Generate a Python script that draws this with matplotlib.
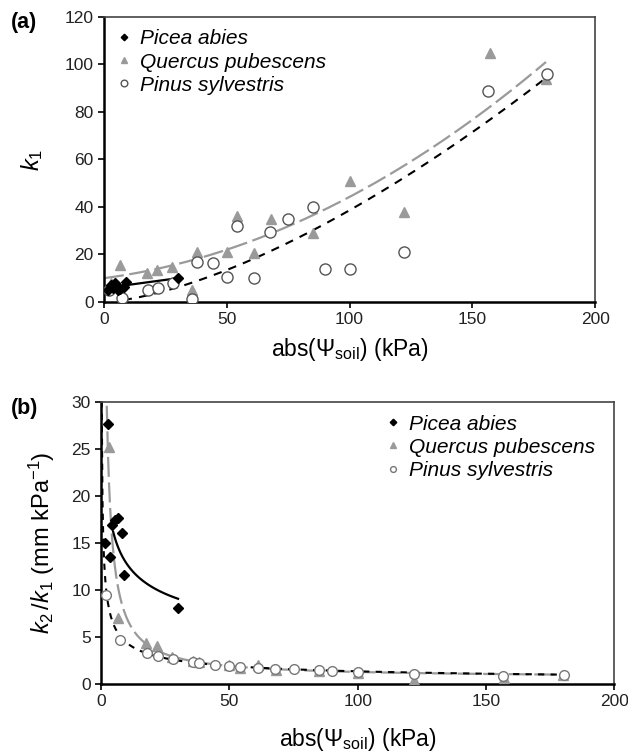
import numpy as np
import matplotlib
matplotlib.use("Agg")
import matplotlib.pyplot as plt

plt.rcParams['font.family'] = ['Liberation Sans', 'DejaVu Sans']
plt.rcParams['mathtext.fontset'] = 'custom'
plt.rcParams['mathtext.rm'] = 'Liberation Sans'
plt.rcParams['mathtext.it'] = 'Liberation Sans:italic'

# ---------------- data ----------------
species = ["Picea abies", "Quercus pubescens", "Pinus sylvestris"]

picea_x = [1.5, 2.7, 3.5, 4.3, 5.5, 6.6, 8.2, 9.0, 30.0]
picea_k1 = [5.0, 7.0, 6.0, 8.0, 5.0, 5.5, 6.5, 8.5, 10.0]
picea_ratio = [15.0, 27.7, 13.5, 16.9, 17.5, 17.7, 16.1, 11.6, 8.1]

quercus_x = [3.0, 6.5, 17.5, 21.6, 27.7, 36.0, 38.0, 50.0, 54.0, 61.0,
             68.0, 85.0, 100.0, 122.0, 157.0, 180.0]
quercus_k1 = [8.0, 15.5, 12.0, 13.4, 14.7, 5.0, 21.0, 21.0, 36.0, 20.6,
              35.0, 29.0, 51.0, 38.0, 105.0, 94.0]
quercus_ratio = [25.2, 7.0, 4.4, 4.0, 2.9, 2.5, 2.3, 2.0, 1.7, 2.0,
                 1.5, 1.4, 1.2, 0.4, 0.6, 1.0]

pinus_x = [2.0, 7.5, 18.0, 22.0, 28.0, 36.0, 38.0, 44.5, 50.0, 54.0,
           61.0, 67.6, 75.0, 85.0, 90.0, 100.0, 122.0, 156.5, 180.5]
pinus_k1 = [5.0, 1.5, 5.0, 6.0, 8.0, 1.3, 17.0, 16.5, 10.5, 32.0,
            10.0, 29.5, 35.0, 40.0, 14.0, 14.0, 21.0, 89.0, 96.0]
pinus_ratio = [9.5, 4.7, 3.3, 3.0, 2.7, 2.3, 2.2, 2.0, 1.9, 1.8,
               1.7, 1.6, 1.6, 1.5, 1.4, 1.3, 1.1, 0.9, 1.0]

# fitted curves (parameters)
picea_a_fit = [5.8, 0.14]                # linear
quercus_a_fit = [10.0, 0.138, 0.002043]  # quadratic
pinus_a_fit = [0.0352, 1.52]             # power law
picea_b_fit = [26.3, -0.313]             # power law
quercus_b_fit = [63.7, 0.646]            # a/x + c
pinus_b_fit = [14.2, -0.511]             # power law

GRAY = "#9a9a9a"
TICK_FS = 12.5
LEG_FS = 15
XLAB_FS = 16.5

fig = plt.figure(figsize=(6.28, 7.53), dpi=100)
axA = fig.add_axes([0.1656, 0.599, 0.782, 0.3785])
axB = fig.add_axes([0.161, 0.0916, 0.817, 0.3745])

def style(ax):
    for s in ["left", "bottom"]:
        ax.spines[s].set_linewidth(1.8)
        ax.spines[s].set_color("black")
    for s in ["top", "right"]:
        ax.spines[s].set_linewidth(1.2)
        ax.spines[s].set_color("#444444")
    ax.tick_params(direction="out", length=4, width=1.2, labelsize=TICK_FS,
                   top=False, right=False, colors="black", labelcolor="#222222")

legkw = dict(frameon=False, prop={"style": "italic", "size": LEG_FS},
             handlelength=0.7, handletextpad=0.45, markerscale=0.6,
             borderaxespad=0.2, labelspacing=0.2)

# ---------- panel (a) ----------
ax = axA
xa = np.linspace(0, 180, 300)
ax.plot(xa, quercus_a_fit[0] + quercus_a_fit[1] * xa + quercus_a_fit[2] * xa**2,
        color=GRAY, lw=1.6, dashes=(9, 2.5), zorder=2)
xp = np.linspace(8, 180, 300)
ax.plot(xp, pinus_a_fit[0] * xp**pinus_a_fit[1], color="black", lw=1.5,
        dashes=(4, 3.5), zorder=2)
xc = np.linspace(1, 30, 50)
ax.plot(xc, picea_a_fit[0] + picea_a_fit[1] * xc, color="black", lw=1.6, zorder=3)

ax.plot(quercus_x, quercus_k1, ls="none", marker="^", ms=7, color=GRAY,
        mec=GRAY, label=species[1], zorder=4)
ax.plot(pinus_x, pinus_k1, ls="none", marker="o", ms=8, mfc="white",
        mec="#555555", mew=1.0, label=species[2], zorder=4)
ax.plot(picea_x, picea_k1, ls="none", marker="D", ms=5.5, color="black",
        label=species[0], zorder=5)

ax.set_xlim(0, 200)
ax.set_ylim(0, 120)
ax.set_xticks([0, 50, 100, 150, 200])
ax.set_yticks([0, 20, 40, 60, 80, 100, 120])
style(ax)
ax.set_xlabel(r"abs($\Psi_{\rm soil}$) (kPa)", fontsize=XLAB_FS, labelpad=6)
ax.set_ylabel(r"$k_1$", fontsize=17, labelpad=14)
h, l = ax.get_legend_handles_labels()
order = [2, 0, 1]
ax.legend([h[i] for i in order], [l[i] for i in order], loc="upper left", **legkw)

fig.text(0.018, 0.97, "(a)", fontsize=15.5, fontweight="bold", ha="left", va="center")

# ---------- panel (b) ----------
ax = axB
xq = np.linspace(2.2, 180, 400)
ax.plot(xq, quercus_b_fit[0] / xq + quercus_b_fit[1], color=GRAY, lw=1.6,
        dashes=(9, 2.5), zorder=2)
xpb = np.linspace(0.23, 180, 600)
ax.plot(xpb, pinus_b_fit[0] * xpb**pinus_b_fit[1], color="black", lw=1.5,
        dashes=(3, 3), zorder=2)
xcb = np.linspace(4.7, 30, 100)
ax.plot(xcb, picea_b_fit[0] * xcb**picea_b_fit[1], color="black", lw=1.6, zorder=3)

ax.plot(quercus_x, quercus_ratio, ls="none", marker="^", ms=6.5, color=GRAY,
        mec=GRAY, label=species[1], zorder=4)
ax.plot(pinus_x, pinus_ratio, ls="none", marker="o", ms=7, mfc="white",
        mec="#777777", mew=1.0, label=species[2], zorder=4)
ax.plot(picea_x, picea_ratio, ls="none", marker="D", ms=5.5, color="black",
        label=species[0], zorder=5)

ax.set_xlim(0, 200)
ax.set_ylim(0, 30)
ax.set_xticks([0, 50, 100, 150, 200])
ax.set_yticks([0, 5, 10, 15, 20, 25, 30])
style(ax)
ax.set_xlabel(r"abs($\Psi_{\rm soil}$) (kPa)", fontsize=XLAB_FS, labelpad=12)
ax.set_ylabel(r"$k_2\,/k_1$ (mm kPa$^{-1}$)", fontsize=17, labelpad=10)
h, l = ax.get_legend_handles_labels()
ax.legend([h[i] for i in order], [l[i] for i in order], loc="upper left",
          bbox_to_anchor=(0.53, 1.0), **legkw)

fig.text(0.018, 0.458, "(b)", fontsize=15.5, fontweight="bold", ha="left", va="center")

fig.savefig("out.png", dpi=100)
